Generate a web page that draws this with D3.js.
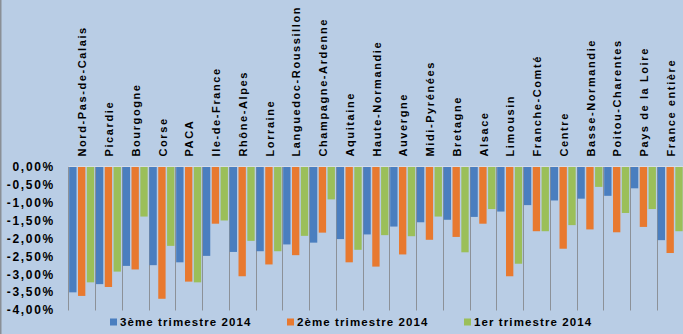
<!DOCTYPE html>
<html><head><meta charset="utf-8">
<script src="https://cdn.jsdelivr.net/npm/d3@7"></script>
<style>
html,body{margin:0;padding:0;background:#b9cde5;overflow:hidden}
svg{display:block}
text{font-family:"Liberation Sans",Arial,sans-serif;font-weight:bold;fill:#000}
</style></head>
<body>
<svg id="c" width="683" height="334"></svg>
<script>
const categories = ["Nord-Pas-de-Calais","Picardie","Bourgogne","Corse","PACA","Ile-de-France","Rhône-Alpes","Lorraine","Languedoc-Roussillon","Champagne-Ardenne","Aquitaine","Haute-Normandie","Auvergne","Midi-Pyrénées","Bretagne","Alsace","Limousin","Franche-Comté","Centre","Basse-Normandie","Poitou-Charentes","Pays de la Loire","France entière"];
const seriesNames = ["3ème trimestre 2014","2ème trimestre 2014","1er trimestre 2014"];
const t3_2014 = [-3.52,-3.29,-2.78,-2.76,-2.68,-2.50,-2.39,-2.37,-2.18,-2.13,-2.03,-1.90,-1.68,-1.56,-1.49,-1.41,-1.26,-1.08,-0.95,-0.90,-0.82,-0.61,-2.06];
const t2_2014 = [-3.62,-3.37,-2.88,-3.70,-3.22,-1.60,-3.07,-2.74,-2.48,-1.85,-2.68,-2.80,-2.46,-2.05,-1.97,-1.60,-3.07,-1.81,-2.30,-1.76,-1.84,-1.69,-2.42];
const t1_2014 = [-3.24,-2.94,-1.40,-2.22,-3.24,-1.51,-2.08,-2.37,-1.94,-0.92,-2.33,-1.92,-1.95,-1.40,-2.40,-1.19,-2.72,-1.81,-1.64,-0.57,-1.30,-1.19,-1.81];
const yTicks = [0,-0.5,-1,-1.5,-2,-2.5,-3,-3.5,-4];
const colors = ["#4a7ebf","#e8792f","#9bbf59"];

const series = [t3_2014, t2_2014, t1_2014];
const svg = d3.select("#c");
const band = 26.75;
const x0 = 68.3;
const x = d3.scaleBand().domain(categories).range([x0, x0 + band*categories.length]).padding(0);
const y = d3.scaleLinear().domain([-4,0]).range([309.5,166.5]);
const xs = d3.scaleBand().domain(d3.range(3)).range([0, band]).paddingInner(0.17).paddingOuter(0.1);

// left frame line
svg.append("line").attr("x1",0.75).attr("x2",0.75).attr("y1",0).attr("y2",334).attr("stroke","#8a8f96").attr("stroke-width",1.5);

// vertical category gridlines
svg.append("g").selectAll("line").data(d3.range(categories.length+1)).join("line")
  .attr("x1",i=>Math.round(x0+i*band)+0.5).attr("x2",i=>Math.round(x0+i*band)+0.5)
  .attr("y1",y(0)).attr("y2",y(-4)+1)
  .attr("stroke","#8c9198").attr("stroke-width",1);

// bars
const g = svg.append("g");
series.forEach((vals,si)=>{
  g.selectAll(null).data(vals).join("rect")
    .attr("x",(d,i)=>x(categories[i])+xs(si))
    .attr("width",xs.bandwidth())
    .attr("y",y(0))
    .attr("height",d=>y(d)-y(0))
    .attr("fill",colors[si]);
});

// zero axis line
svg.append("line").attr("x1",x0).attr("x2",683).attr("y1",y(0)).attr("y2",y(0)).attr("stroke","#d6dde8").attr("stroke-width",1);

// y axis labels
const fmt = v => (v===0?"0,00%":d3.format(".2f")(v).replace("−","-").replace(".",",")+"%");
const yAxis = d3.axisLeft(y).tickValues(yTicks).tickFormat(fmt).tickSize(0).tickPadding(0);
const ya = svg.append("g").attr("transform","translate(55,0)").call(yAxis);
ya.select(".domain").remove();
ya.selectAll("text").attr("font-size","12px").attr("font-family","Liberation Sans, Arial, sans-serif").attr("font-weight","bold").attr("fill","#000").style("letter-spacing","1.7px").attr("dy","0.36em");

// category labels (rotated)
svg.append("g").selectAll("text").data(categories).join("text")
  .attr("transform",d=>`translate(${x(d)+band/2+4.8},156.5) rotate(-90)`)
  .attr("font-size","11px").style("letter-spacing","1.6px")
  .text(d=>d);

// legend
const legX = [110,287,464];
const leg = svg.append("g");
seriesNames.forEach((n,i)=>{
  leg.append("rect").attr("x",legX[i]).attr("y",318.5).attr("width",7).attr("height",7).attr("fill",colors[i]);
  leg.append("text").attr("x",legX[i]+10).attr("y",326.2).attr("font-size","11.5px").style("letter-spacing","1.1px").text(n);
});
</script>
</body></html>
